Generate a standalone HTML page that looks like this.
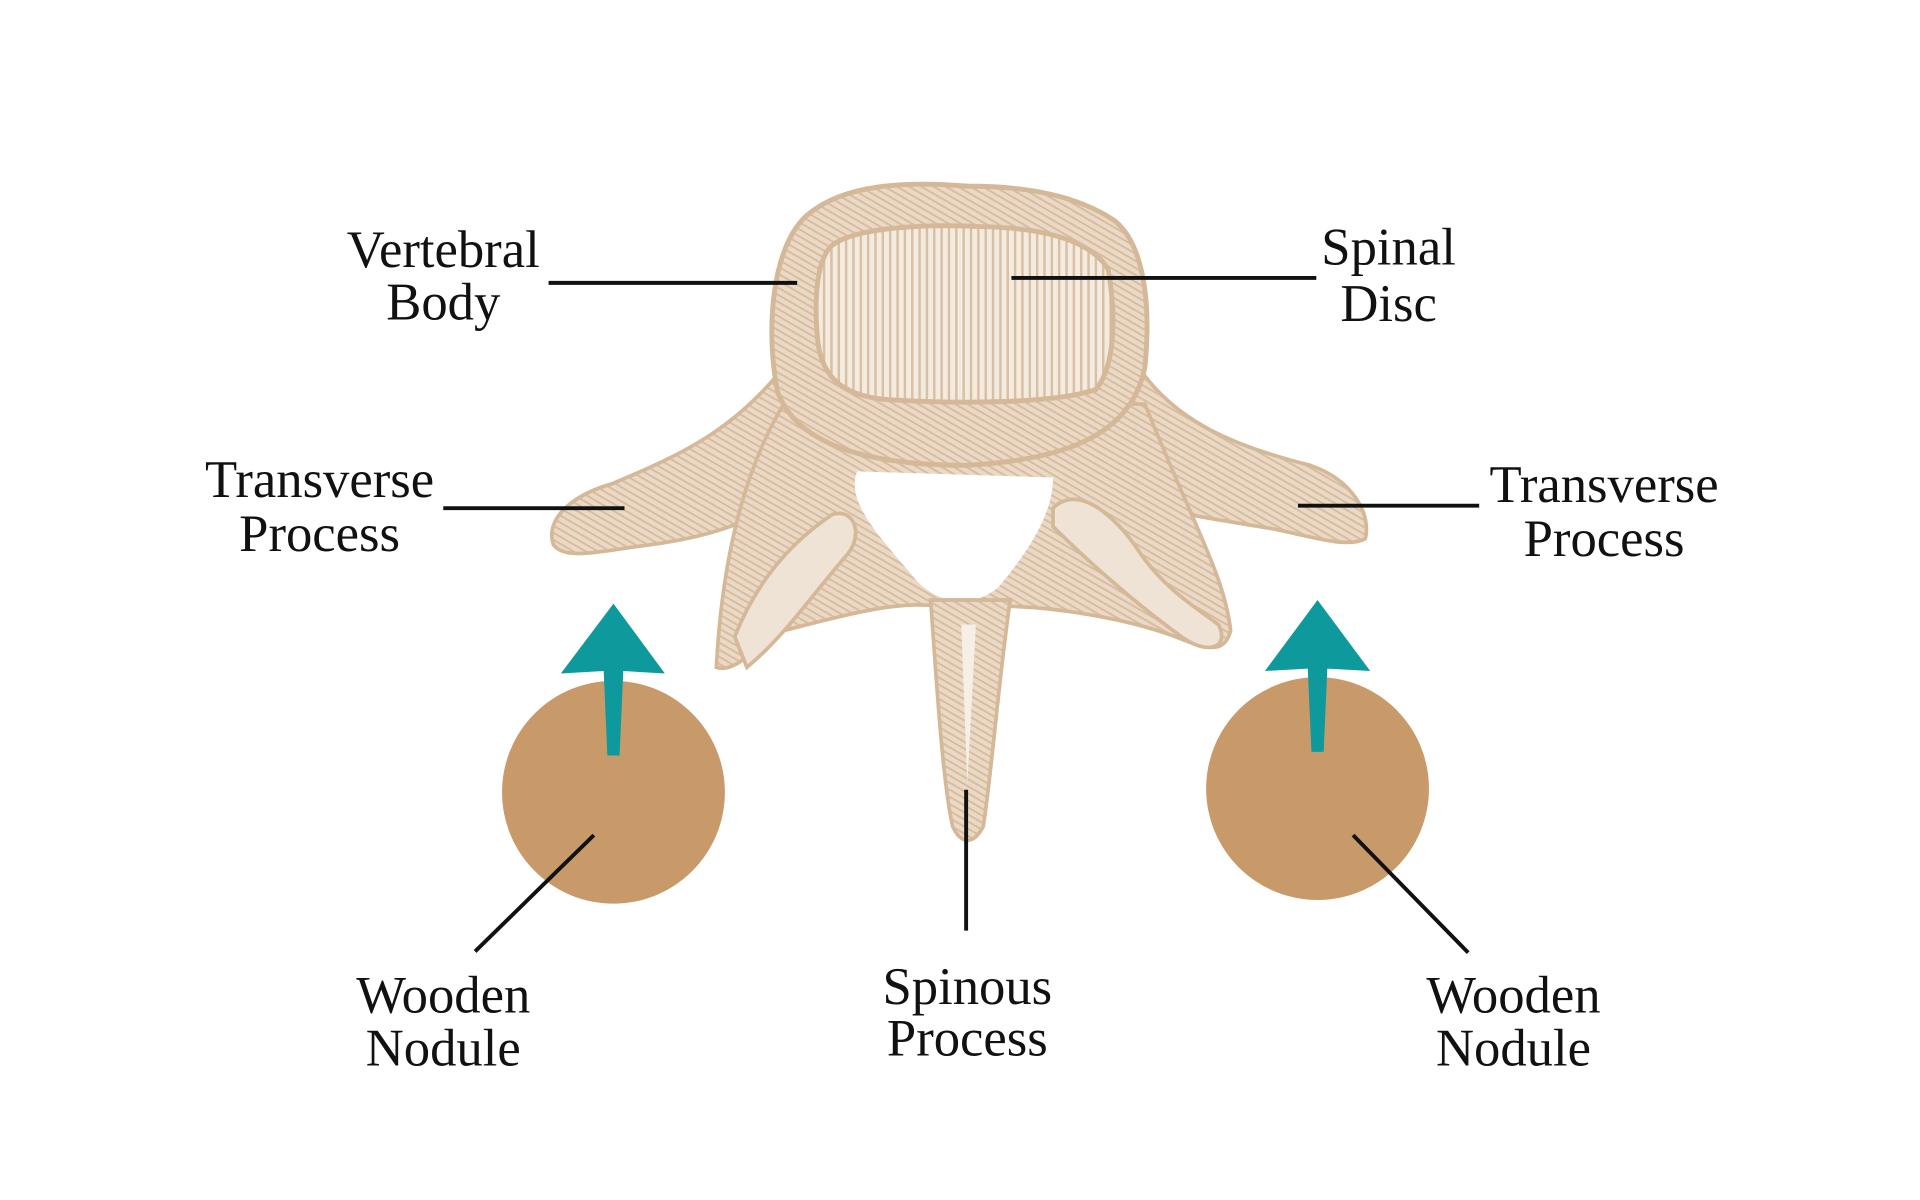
<!DOCTYPE html>
<html><head><meta charset="utf-8"><style>
html,body{margin:0;padding:0;background:#fff;}
svg{display:block}
text{font-family:"Liberation Serif",serif;font-size:43px;fill:#111;text-anchor:middle}
</style></head><body>
<svg width="1920" height="1200" viewBox="0 0 1568 980" xmlns="http://www.w3.org/2000/svg">
<defs>
<pattern id="vs" width="6" height="10" patternUnits="userSpaceOnUse">
<rect width="6" height="10" fill="#f4ebe0"/><rect width="2" height="10" fill="#d9bfa3"/>
</pattern>
<pattern id="hat" width="5" height="5" patternUnits="userSpaceOnUse" patternTransform="rotate(30)">
<rect width="5" height="5" fill="#ead9c6"/><rect width="5" height="1.6" fill="#d8bc9f"/>
</pattern>
</defs>
<!-- wings / transverse processes -->
<path d="M640,300 C600,350 560,370 500,395 C465,405 445,425 452,445 C462,458 490,450 530,445 C570,440 600,430 620,420 L650,380 Z" fill="url(#hat)" stroke="#d4b898" stroke-width="3"/>
<path d="M930,300 C960,345 1010,365 1070,380 C1105,392 1120,420 1115,440 C1100,448 1070,438 1040,432 C1000,425 960,420 930,410 L910,370 Z" fill="url(#hat)" stroke="#d4b898" stroke-width="3"/>
<!-- lamina region -->
<path d="M640,330 C610,380 590,450 585,545 C600,550 615,530 640,515 C680,505 730,490 765,495 L790,540 L815,495 C860,495 920,505 960,520 C985,530 1000,535 1005,515 C1000,470 975,430 935,330 Z" fill="url(#hat)" stroke="#d4b898" stroke-width="3"/>
<!-- canal -->
<path d="M700,385 C690,410 720,440 745,470 C760,490 790,500 815,480 C840,450 860,420 860,390 Z" fill="#fff"/>
<!-- articular processes -->
<path d="M600,520 C620,470 650,440 680,420 C700,415 705,440 690,455 C660,490 640,520 610,545 Z" fill="#efe3d5" stroke="#d4b898" stroke-width="3"/>
<path d="M860,415 C880,395 910,420 930,450 C950,480 975,495 995,510 C1005,530 985,535 965,520 C930,495 890,460 860,430 Z" fill="#efe3d5" stroke="#d4b898" stroke-width="3"/>
<!-- spinous process -->
<path d="M760,490 C765,560 770,640 778,675 C785,690 795,690 803,675 C810,630 815,560 825,490 Z" fill="url(#hat)" stroke="#d4b898" stroke-width="3"/>
<path d="M785,510 L790,640 L797,510 Z" fill="#f6efe6"/>
<!-- vertebral body -->
<path d="M660,175 C690,150 740,148 790,152 C840,152 880,160 910,180 C935,200 940,250 935,300 C925,350 880,375 790,380 C700,380 650,360 635,320 C625,270 630,200 660,175 Z" fill="url(#hat)" stroke="#d4b898" stroke-width="4"/>
<path d="M680,200 C700,185 760,183 800,185 C850,186 890,195 905,220 C912,260 910,300 895,318 C860,330 780,330 720,326 C690,322 672,310 668,280 C664,240 668,210 680,200 Z" fill="url(#vs)" stroke="#d4b898" stroke-width="4"/>
<!-- nodules -->
<circle cx="501" cy="647" r="91" fill="#c89a6a"/>
<circle cx="1076" cy="644" r="91" fill="#c89a6a"/>
<!-- arrows -->
<path d="M496,617 L506,617 L509,548 L543,550 L501,493 L458,550 L493,548 Z" fill="#0e9a9c"/>
<path d="M1071,614 L1081,614 L1084,546 L1119,548 L1076,490 L1033,548 L1068,546 Z" fill="#0e9a9c"/>
<!-- leader lines -->
<g stroke="#111" stroke-width="3.2" fill="none">
<line x1="448" y1="231" x2="651" y2="231"/>
<line x1="826" y1="227" x2="1075" y2="227"/>
<line x1="362" y1="415" x2="510" y2="415"/>
<line x1="1060" y1="413" x2="1208" y2="413"/>
<line x1="789" y1="645" x2="789" y2="760"/>
<line x1="485" y1="682" x2="388" y2="777"/>
<line x1="1105" y1="682" x2="1199" y2="778"/>
</g>
<!-- labels -->
<text x="362" y="218">Vertebral</text><text x="362" y="261">Body</text>
<text x="1134" y="216">Spinal</text><text x="1134" y="262">Disc</text>
<text x="261" y="406">Transverse</text><text x="261" y="450">Process</text>
<text x="1310" y="410">Transverse</text><text x="1310" y="454">Process</text>
<text x="362" y="827">Wooden</text><text x="362" y="870">Nodule</text>
<text x="790" y="820">Spinous</text><text x="790" y="862">Process</text>
<text x="1236" y="827">Wooden</text><text x="1236" y="870">Nodule</text>
</svg>
</body></html>
